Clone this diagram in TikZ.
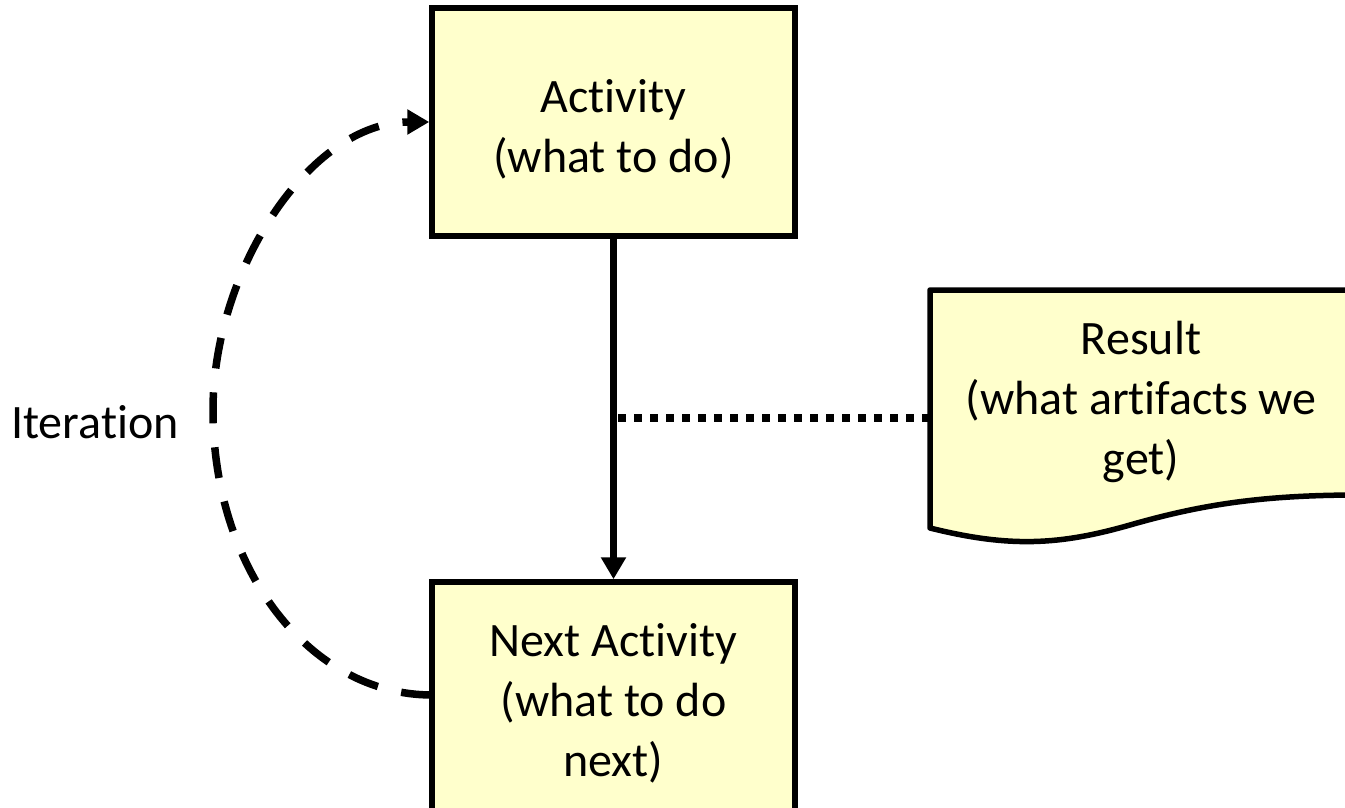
\documentclass[tikz,border=0pt]{standalone}
\usepackage{fontspec}
\setmainfont{Carlito}[Ligatures=NoCommon]
\usetikzlibrary{arrows.meta}
\definecolor{boxfill}{HTML}{FFFFCC}
\tikzset{
  actbox/.style={draw=black, line width=5.5pt, fill=boxfill, minimum width=363pt, inner sep=0pt, align=center, font=\fontsize{48}{60}\selectfont},
  plain/.style={inner sep=0pt, align=center, font=\fontsize{48}{60}\selectfont},
  conn/.style={line width=7pt, -{Triangle[length=22pt,width=24pt]}},
  iter/.style={line width=7.5pt, dash pattern=on 31pt off 24pt, -{Triangle[length=22pt,width=24pt]}},
  dotline/.style={line width=7.5pt, dash pattern=on 8pt off 8pt},
}
\begin{document}
\begin{tikzpicture}[x=1pt,y=-1pt]
\useasboundingbox (0,0) rectangle (1345,808);
\clip (0,0) rectangle (1345,808);
% document shape
\draw[line width=5.5pt, fill=boxfill, line join=round]
  (930,290) -- (1360,290) -- (1360,495)
  .. controls (1260,495) and (1200,505) .. (1130,525)
  .. controls (1060,545) and (1010,548) .. (930,528) -- cycle;
\node[plain] (res) at (1141,402) {Result\\(what artifacts we\\get)};
\node[actbox, minimum height=228pt] (act) at (613.5,122) {};
\node[plain] (acttxt) at (613.5,129) {Activity\\(what to do)};
\node[actbox, minimum height=236pt] (next) at (613.5,700) {};
\node[plain] (nexttxt) at (613.5,703) {Next Activity\\(what to do\\next)};
\node[plain] (iterlbl) at (95,422) {Iteration};
\draw[conn] (act.south) -- (next.north);
\coordinate (dl) at (618,418);
\coordinate (dr) at (928,418);
\draw[dotline] (dl) -- (dr);
\coordinate (istart) at (432,695);
\coordinate (imid) at (213,410);
\draw[iter] (istart) .. controls (310,695) and (213,570) .. (imid)
  .. controls (213,270) and (310,122) .. (act.west);
\end{tikzpicture}
\end{document}
